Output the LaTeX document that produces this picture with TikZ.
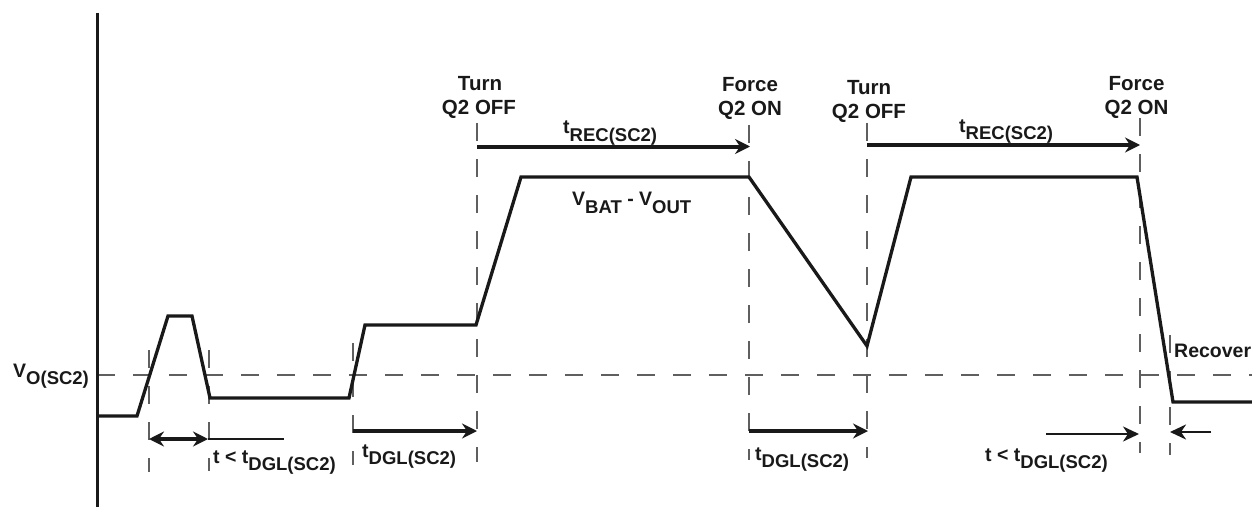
\documentclass[tikz,border=0pt]{standalone}
\usepackage{fontspec}
\setmainfont{Liberation Sans}
\usetikzlibrary{arrows.meta}
\definecolor{ink}{RGB}{25,25,25}
\definecolor{dashgray}{RGB}{95,95,95}
\newcommand{\sbs}[1]{\raisebox{-7.5pt}{\fontsize{18.5pt}{20pt}\selectfont #1}}
\begin{document}
\begin{tikzpicture}[x=1pt,y=-1pt,
  wave/.style={line width=3.3pt, draw=ink, line join=miter},
  axisline/.style={line width=3pt, draw=ink},
  guide/.style={draw=dashgray, line width=1.8pt, dash pattern=on 18pt off 18pt},
  bigarrow/.style={line width=4pt, draw=ink, -{Stealth[length=15pt,width=15pt,inset=5pt]}},
  botharrow/.style={line width=4pt, draw=ink, {Stealth[length=15pt,width=15pt,inset=5pt]}-{Stealth[length=15pt,width=15pt,inset=5pt]}},
  thinarrow/.style={line width=2.4pt, draw=ink, -{Stealth[length=16pt,width=15pt,inset=5pt]}},
  thinline/.style={line width=2.4pt, draw=ink},
  lbl/.style={font=\fontsize{19.5pt}{22pt}\selectfont\bfseries, text=ink, inner sep=0pt, anchor=base west},
  cmd/.style={font=\fontsize{20.5pt}{23pt}\selectfont\bfseries, text=ink, inner sep=0pt, anchor=base}]
\useasboundingbox[fill=white] (0,0) rectangle (1252,508);

% ---- guide coordinates
\coordinate (hL) at (97,375);   \coordinate (hR) at (1252,375);
\coordinate (g1t) at (149,350); \coordinate (g1b) at (149,472);
\coordinate (g2t) at (209,350); \coordinate (g2b) at (209,471);
\coordinate (g3t) at (353,343); \coordinate (g3b) at (353,465);
\coordinate (g4t) at (477,123); \coordinate (g4b) at (477,462);
\coordinate (g5t) at (749,125); \coordinate (g5b) at (749,460);
\coordinate (g6t) at (867,123); \coordinate (g6b) at (867,458);
\coordinate (g7t) at (1140,118); \coordinate (g7b) at (1140,453);
\coordinate (g8t) at (1170,335); \coordinate (g8b) at (1170,455);

\draw[guide] (hL) -- (hR);
\foreach \g in {1,...,8} { \draw[guide] (g\g t) -- (g\g b); }

% ---- axis
\coordinate (axT) at (97,13); \coordinate (axB) at (97,507);
\draw[axisline] (axT) -- (axB);

% ---- waveform
\coordinate (w0) at (97,416);
\coordinate (w1) at (137,416);
\coordinate (w2) at (168,316);
\coordinate (w3) at (192,316);
\coordinate (w4) at (210,398);
\coordinate (w5) at (349,398);
\coordinate (w6) at (365,325);
\coordinate (w7) at (476,325);
\coordinate (w8) at (521,177);
\coordinate (w9) at (749,177);
\coordinate (w10) at (867,346);
\coordinate (w11) at (911,177);
\coordinate (w12) at (1137,177);
\coordinate (w13) at (1173,402);
\coordinate (w14) at (1252,402);
\draw[wave] (w0) -- (w1) -- (w2) -- (w3) -- (w4) -- (w5) -- (w6) -- (w7) -- (w8)
  -- (w9) -- (w10) -- (w11) -- (w12) -- (w13) -- (w14);

% ---- timing arrows
\coordinate (a1l) at (149,439); \coordinate (a1r) at (208,439); \coordinate (a1e) at (284,439);
\draw[botharrow] (a1l) -- (a1r);
\draw[thinline] (a1r) -- (a1e);
\coordinate (d1l) at (353,431); \coordinate (d1r) at (477,431);
\draw[bigarrow] (d1l) -- (d1r);
\coordinate (r1l) at (477,146.5); \coordinate (r1r) at (750,146.5);
\draw[bigarrow] (r1l) -- (r1r);
\coordinate (d2l) at (749,431); \coordinate (d2r) at (868,431);
\draw[bigarrow] (d2l) -- (d2r);
\coordinate (r2l) at (867,145); \coordinate (r2r) at (1140,145);
\draw[bigarrow] (r2l) -- (r2r);
\coordinate (s1l) at (1046,434); \coordinate (s1r) at (1139,434);
\draw[thinarrow] (s1l) -- (s1r);
\coordinate (s2r) at (1211,432); \coordinate (s2l) at (1170,432);
\draw[thinarrow] (s2r) -- (s2l);

% ---- event labels
\node[cmd] (turn1a) at (480,91) {Turn};
\node[cmd] (turn1b) at (479,114) {Q2 OFF};
\node[cmd] (force1a) at (750,92) {Force};
\node[cmd] (force1b) at (750,116) {Q2 ON};
\node[cmd] (turn2a) at (869,95) {Turn};
\node[cmd] (turn2b) at (869,119) {Q2 OFF};
\node[cmd] (force2a) at (1136.5,91) {Force};
\node[cmd] (force2b) at (1136.5,114) {Q2 ON};

% ---- signal labels
\node[lbl] (vo) at (13,377) {V\sbs{O(SC2)}};
\node[lbl] (trec1) at (563,134) {t\sbs{REC(SC2)}};
\node[lbl] (trec2) at (959,132) {t\sbs{REC(SC2)}};
\node[lbl] (vbat) at (572,205.7) {V\sbs{BAT} - V\sbs{OUT}};
\node[lbl] (tdgl1) at (362,457) {t\sbs{DGL(SC2)}};
\node[lbl] (tlt1) at (213,463) {t < t\sbs{DGL(SC2)}};
\node[lbl] (tdgl2) at (755,460) {t\sbs{DGL(SC2)}};
\node[lbl] (tlt2) at (985,461) {t < t\sbs{DGL(SC2)}};
\node[lbl] (recov) at (1174,357) {Recover};
\end{tikzpicture}
\end{document}
